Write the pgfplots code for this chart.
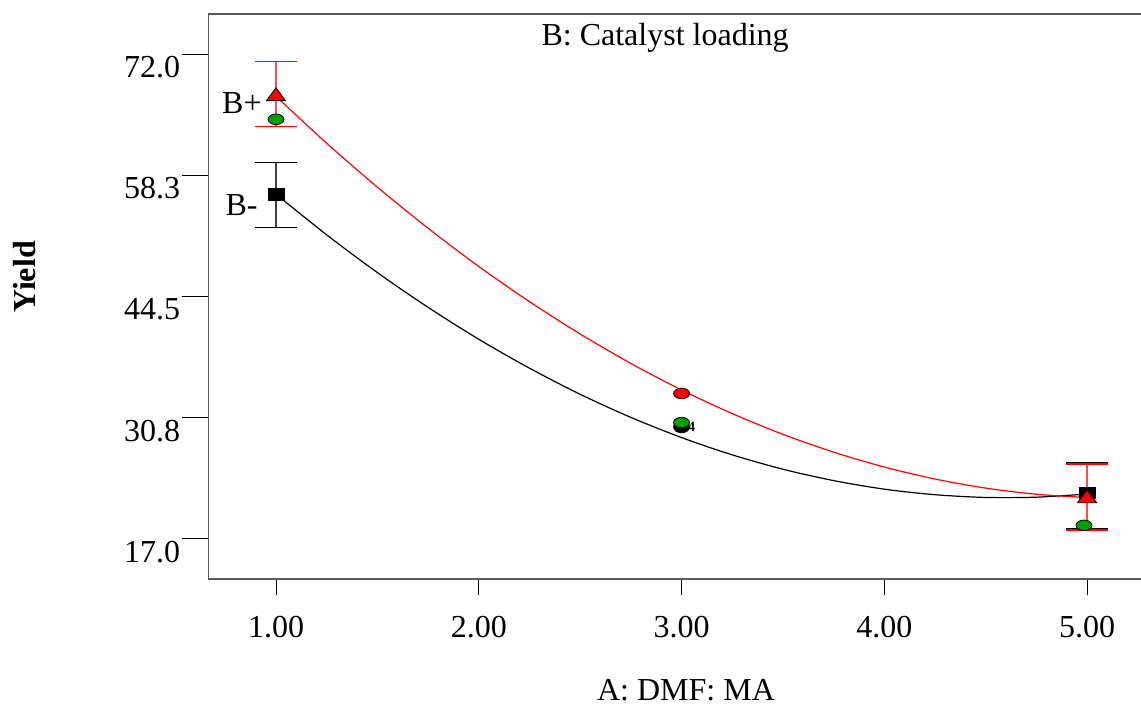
\documentclass[border=0pt]{standalone}
\usepackage{fontspec}
\setmainfont{Liberation Serif}
\usepackage{pgfplots}
\pgfplotsset{compat=1.18}
\definecolor{ptgreen}{RGB}{0,160,0}
\definecolor{axgray}{RGB}{90,90,90}
\begin{document}
\begin{tikzpicture}[font=\fontsize{16}{19}\selectfont]
\useasboundingbox (-104.25pt,-64pt) rectangle (466.25pt,289.5pt);
\begin{axis}[
  at={(0,0)}, anchor=south west,
  scale only axis, width=466.25pt, height=282.5pt,
  xmin=0.667, xmax=5.266, ymin=12.46, ymax=76.54,
  clip=false,
  axis line style={draw=none},
  xtick={1,2,3,4,5}, xticklabels={1.00,2.00,3.00,4.00,5.00},
  ytick={17,30.75,44.5,58.25,72}, yticklabels={17.0,30.8,44.5,58.3,72.0},
  xtick pos=bottom, ytick pos=left,
  tick align=outside, major tick length=13pt,
  xtick style={black, line width=0.5pt, /pgfplots/major tick length=8pt},
  ytick style={black, line width=0.5pt},
  yticklabel style={anchor=north east, inner sep=1pt},
  xticklabel style={yshift=-2pt},
  xlabel={A: DMF: MA},
  xlabel style={at={(axis cs:3.022,-0.13)}, anchor=center},
  ylabel={\textbf{Yield}},
  ylabel style={at={(axis cs:-0.24,46.71)}, anchor=center},
  every axis title shift=0pt,
  title={B: Catalyst loading},
  title style={at={(axis cs:2.919,74.15)}, anchor=center, yshift=-1.5pt},
]
% axis frame (left, bottom, top)
\draw[axgray, line width=0.7pt] (rel axis cs:1,1) -- (rel axis cs:0,1) -- (rel axis cs:0,0) -- (rel axis cs:1,0);

% fitted curves
\addplot[black, line width=0.6pt, smooth, mark=none] coordinates {
 (1,56.10) (1.25,51.49) (1.5,47.21) (1.75,43.27) (2,39.65) (2.25,36.37)
 (2.5,33.41) (2.75,30.79) (3,28.50) (3.25,26.54) (3.5,24.91) (3.75,23.62)
 (4,22.65) (4.25,22.02) (4.5,21.71) (4.75,21.74) (5,22.10)};
\addplot[red, line width=0.6pt, smooth, mark=none] coordinates {
 (1,67.20) (1.25,61.88) (1.5,56.90) (1.75,52.24) (2,47.91) (2.25,43.92)
 (2.5,40.25) (2.75,36.91) (3,33.90) (3.25,31.22) (3.5,28.87) (3.75,26.85)
 (4,25.16) (4.25,23.80) (4.5,22.77) (4.75,22.07) (5,21.70)};

% LSD error bars
\addplot[draw=none, mark=none,
  error bars/.cd, y dir=both, y explicit,
  error bar style={black!75, line width=0.7pt},
  error mark options={rotate=90, black, mark size=10.5pt, line width=0.7pt}]
  coordinates {(1,56.0) +- (0,3.69) (5,21.95) +- (0,3.75)};
\addplot[draw=none, mark=none,
  error bars/.cd, y dir=both, y explicit,
  error bar style={red!70, line width=0.7pt},
  error mark options={rotate=90, red, mark size=10.5pt, line width=0.7pt}]
  coordinates {(1,67.45) +- (0,3.69) (5,21.75) +- (0,3.75)};

% design points
\addplot[only marks, mark=*, mark size=4pt,
  mark options={fill=black, draw=black, yscale=0.72, line width=0.4pt}]
  coordinates {(3,29.7)};
\addplot[only marks, mark=*, mark size=4pt,
  mark options={fill=ptgreen, draw=black, yscale=0.66, line width=0.4pt}]
  coordinates {(1,64.6) (3,30.2) (4.985,18.55)};
\addplot[only marks, mark=*, mark size=4pt,
  mark options={fill=red, draw=black, yscale=0.66, line width=0.4pt}]
  coordinates {(3,33.5)};

% predicted means
\addplot[only marks, mark=square*, mark size=4pt,
  mark options={fill=black, draw=black, yscale=0.72}]
  coordinates {(1,56.1) (5,22.2)};
\addplot[only marks, mark=triangle*, mark size=5.5pt,
  mark options={fill=red, draw=black, line width=0.4pt, yscale=0.78}]
  coordinates {(1,67.2) (5,21.6)};

% labels
\node[anchor=east, inner sep=0pt] at (axis cs:0.931,66.44) {B+};
\node[anchor=east, inner sep=0pt] at (axis cs:0.911,54.88) {B-};
\node[anchor=center, inner sep=0pt, font=\fontsize{7}{8}\selectfont\bfseries] at (axis cs:3.05,29.7) {4};
\end{axis}
\end{tikzpicture}
\end{document}
